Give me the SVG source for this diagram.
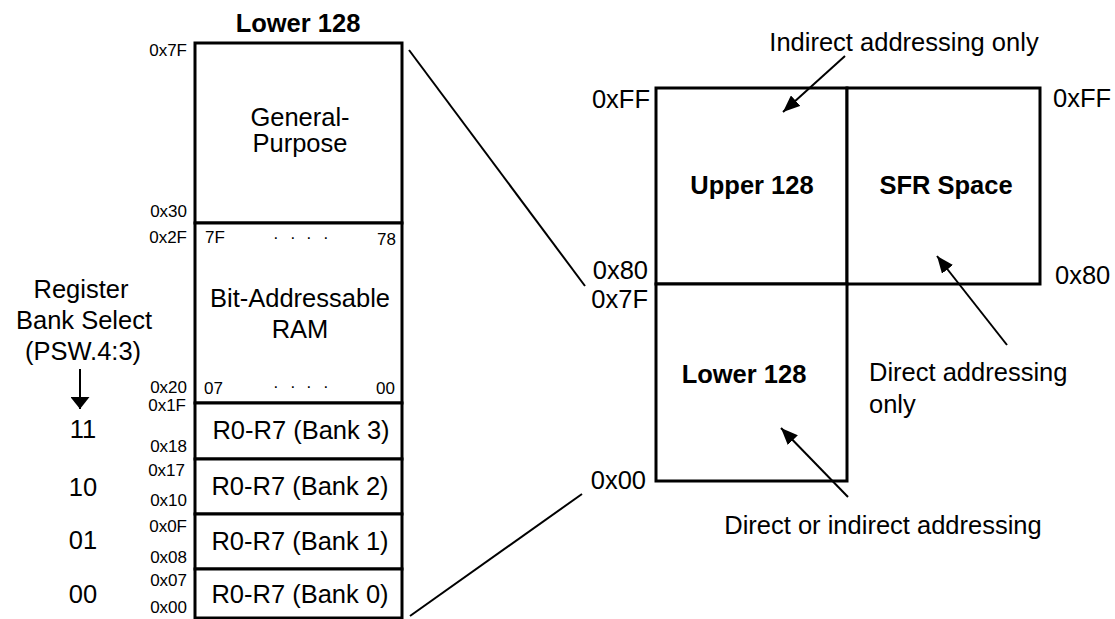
<svg xmlns="http://www.w3.org/2000/svg" width="1115" height="619" viewBox="0 0 1115 619">
<style>
text{font-family:"Liberation Sans",Arial,sans-serif;fill:#000}
.lg{font-size:25.5px}
.b{font-size:25.5px;font-weight:bold}
.sm{font-size:17px}
.c{text-anchor:middle}
.e{text-anchor:end}
.box{fill:#fff;stroke:#000;stroke-width:3}
.ln{stroke:#000;stroke-width:2;fill:none}
</style>
<defs>
<marker id="ah" markerUnits="userSpaceOnUse" markerWidth="18" markerHeight="14" viewBox="0 0 18 14" refX="17" refY="7" orient="auto">
<path d="M0,0 L17,7 L0,14 Z" fill="#000"/>
</marker>
<marker id="ahd" markerUnits="userSpaceOnUse" markerWidth="13" markerHeight="19" viewBox="0 0 13 19" refX="12" refY="9.5" orient="auto">
<path d="M0,0 L12,9.5 L0,19 Z" fill="#000"/>
</marker>
</defs>
<rect width="1115" height="619" fill="#fff"/>

<g id="lower-title"><text class="b c" x="298" y="32">Lower 128</text></g>

<g id="general-purpose">
<rect class="box" x="195" y="43" width="207" height="180"/>
<text class="lg c" x="300" y="126">General-</text>
<text class="lg c" x="300" y="152">Purpose</text>
<text class="sm e" x="187" y="56">0x7F</text>
<text class="sm e" x="187" y="217">0x30</text>
</g>

<g id="bit-addressable">
<rect class="box" x="195" y="223" width="207" height="180"/>
<text class="sm" x="205" y="243">7F</text>
<text class="sm" x="273 290 306 323" y="243">····</text>
<text class="sm e" x="396" y="245">78</text>
<text class="lg c" x="300" y="307">Bit-Addressable</text>
<text class="lg c" x="300" y="338">RAM</text>
<text class="sm" x="204" y="394">07</text>
<text class="sm" x="273 290 306 323" y="392">····</text>
<text class="sm e" x="395" y="394">00</text>
<text class="sm e" x="187" y="243">0x2F</text>
<text class="sm e" x="187" y="393">0x20</text>
</g>

<g id="bank3">
<rect class="box" x="195" y="403" width="207" height="56"/>
<text class="lg c" x="301" y="439">R0-R7 (Bank 3)</text>
<text class="sm e" x="186" y="411">0x1F</text>
<text class="sm e" x="187" y="452">0x18</text>
</g>
<g id="bank2">
<rect class="box" x="195" y="459" width="207" height="55"/>
<text class="lg c" x="300" y="495">R0-R7 (Bank 2)</text>
<text class="sm e" x="185" y="476">0x17</text>
<text class="sm e" x="187" y="506">0x10</text>
</g>
<g id="bank1">
<rect class="box" x="195" y="514" width="207" height="55"/>
<text class="lg c" x="300" y="550">R0-R7 (Bank 1)</text>
<text class="sm e" x="187" y="532">0x0F</text>
<text class="sm e" x="187" y="563">0x08</text>
</g>
<g id="bank0">
<rect class="box" x="195" y="569" width="207" height="49"/>
<text class="lg c" x="300" y="603">R0-R7 (Bank 0)</text>
<text class="sm e" x="187" y="586">0x07</text>
<text class="sm e" x="187" y="613">0x00</text>
</g>

<g id="bank-select">
<text class="lg c" x="81" y="298">Register</text>
<text class="lg c" x="84" y="329">Bank Select</text>
<text class="lg c" x="83" y="360">(PSW.4:3)</text>
<text class="lg c" x="83" y="438">11</text>
<text class="lg c" x="83" y="496">10</text>
<text class="lg c" x="83" y="549">01</text>
<text class="lg c" x="83" y="603">00</text>
</g>

<g id="upper-128">
<rect class="box" x="656" y="88" width="191" height="196"/>
<text class="b c" x="752" y="194">Upper 128</text>
<text class="lg e" x="650" y="108">0xFF</text>
<text class="lg e" x="648" y="279">0x80</text>
</g>
<g id="sfr-space">
<rect class="box" x="847" y="88" width="193" height="196"/>
<text class="b c" x="946" y="194">SFR Space</text>
<text class="lg" x="1053" y="107">0xFF</text>
<text class="lg" x="1055" y="284">0x80</text>
</g>
<g id="lower-128">
<rect class="box" x="656" y="284" width="191" height="197"/>
<text class="b c" x="744" y="383">Lower 128</text>
<text class="lg e" x="648" y="308">0x7F</text>
<text class="lg e" x="646" y="489">0x00</text>
</g>

<g id="labels">
<text class="lg c" x="904" y="51">Indirect addressing only</text>
<text class="lg" x="869" y="381">Direct addressing</text>
<text class="lg" x="869" y="413">only</text>
<text class="lg c" x="883" y="534">Direct or indirect addressing</text>
</g>

<g id="connectors">
<line class="ln" x1="409" y1="50" x2="585" y2="286"/>
<line class="ln" x1="410" y1="616" x2="582" y2="494"/>
<line class="ln" x1="80" y1="369" x2="80" y2="409" stroke-width="3" marker-end="url(#ahd)"/>
<line class="ln" x1="845" y1="56" x2="783" y2="112" marker-end="url(#ah)"/>
<line class="ln" x1="1007" y1="345" x2="937" y2="256" marker-end="url(#ah)"/>
<line class="ln" x1="848" y1="497" x2="781" y2="428" marker-end="url(#ah)"/>
</g>
</svg>
